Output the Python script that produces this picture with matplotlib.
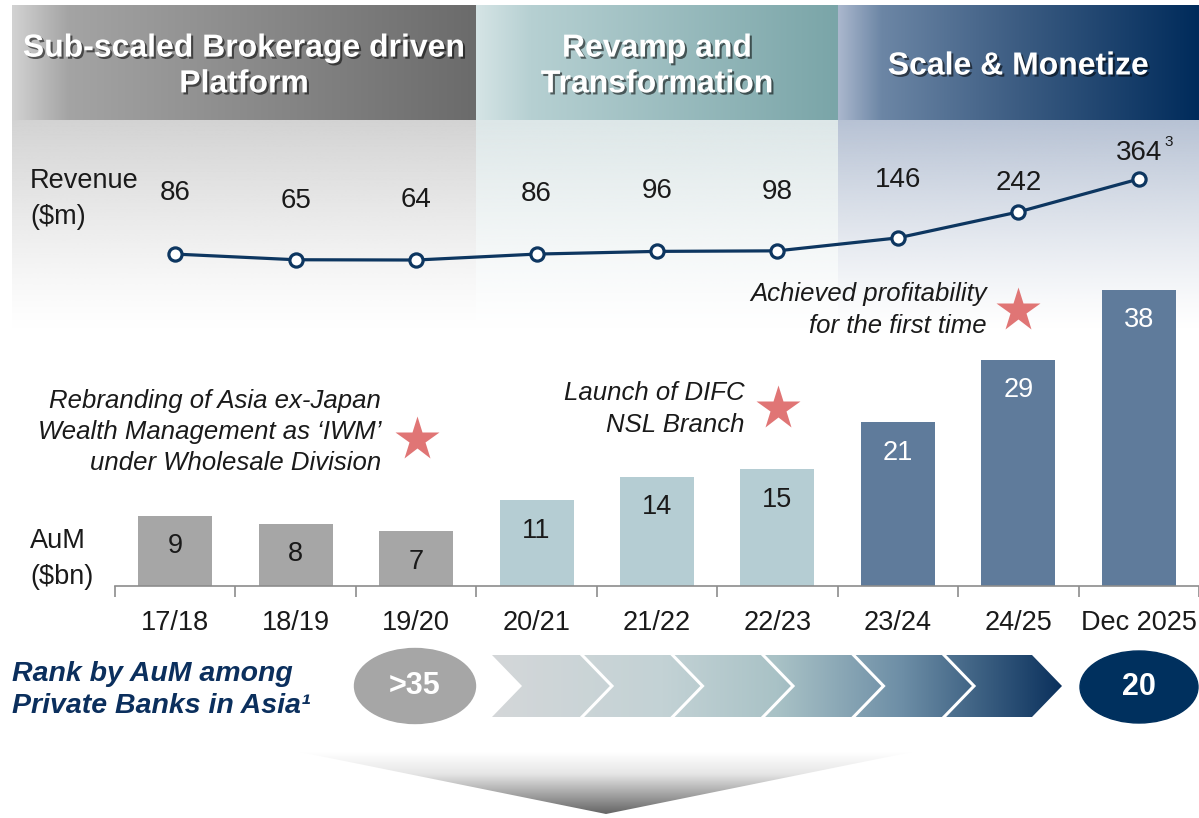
import numpy as np
import matplotlib
matplotlib.use('Agg')
import matplotlib.pyplot as plt
from matplotlib.colors import LinearSegmentedColormap, to_rgb
from matplotlib.patches import Polygon, Ellipse
import matplotlib.patheffects as pe

plt.rcParams['font.family'] = ['Liberation Sans', 'DejaVu Sans']

# data
periods = ['17/18', '18/19', '19/20', '20/21', '21/22', '22/23', '23/24', '24/25', 'Dec 2025']
revenue = [86, 65, 64, 86, 96, 98, 146, 242, 364]
aum = [9, 8, 7, 11, 14, 15, 21, 29, 38]
phase = [0, 0, 0, 1, 1, 1, 2, 2, 2]
phase_titles = ['Sub-scaled Brokerage driven\nPlatform', 'Revamp and\nTransformation', 'Scale & Monetize']
milestones = ['Rebranding of Asia ex-Japan\nWealth Management as \u2018IWM\u2019\nunder Wholesale Division',
              'Launch of DIFC\nNSL Branch',
              'Achieved profitability\nfor the first time']
rank_start = '>35'
rank_end = '20'

# style
W, H = 1199, 818
navy = '#0d3660'
bar_colors = ['#a6a6a6', '#b5cdd3', '#5f7b9b']
bar_text = ['#1a1a1a', '#1a1a1a', 'white']
star_color = '#e07575'
header_stops = [
    [(0, '#d2d2d2'), (0.12, '#a4a4a4'), (1, '#6b6b6b')],
    [(0, '#d5e4e5'), (0.15, '#b6d0d2'), (1, '#7aa5a8')],
    [(0, '#aab7cd'), (0.12, '#6c86a5'), (0.5, '#3c5c82'), (1, '#002b5b')],
]
fade_colors = ['#d3d3d3', '#dde7e8', '#b7c2d4']
col_edges = [12, 476, 838, 1199]
rev_gap_px = [64, 62, 63, 63, 63, 62, 61, 32, 29]


def gradient(ax, x0, x1, y0, y1, stops, horizontal=True, clip=None, z=0):
    cmap = LinearSegmentedColormap.from_list('g', stops)
    g = np.linspace(0, 1, 256)
    img = g.reshape(1, -1) if horizontal else g.reshape(-1, 1)
    im = ax.imshow(img, cmap=cmap, extent=(x0, x1, y1, y0), origin='upper',
                   aspect='auto', interpolation='bicubic', zorder=z)
    if clip is not None:
        im.set_clip_path(clip)
    return im


def fade(ax, x0, x1, y0, y1, color, z=0):
    rgba = np.zeros((256, 1, 4))
    rgba[:, 0, :3] = to_rgb(color)
    rgba[:, 0, 3] = np.linspace(1, 0, 256) ** 1.2
    ax.imshow(rgba, extent=(x0, x1, y1, y0), origin='upper', aspect='auto', zorder=z)


fig = plt.figure(figsize=(W / 100, H / 100), dpi=100)
bg = fig.add_axes([0, 0, 1, 1])
bg.axis('off')

# phase headers
shadow = [pe.withSimplePatchShadow(offset=(1.5, -1.5), shadow_rgbFace='black', alpha=0.55)]
for i in range(3):
    x0, x1 = col_edges[i], col_edges[i + 1]
    gradient(bg, x0, x1, 5, 120, header_stops[i])
    fade(bg, x0, x1, 120, 330, fade_colors[i])
    bg.text((x0 + x1) / 2, 66.5, phase_titles[i], ha='center', va='center', color='white',
            fontsize=23, fontweight='bold', linespacing=1.25, path_effects=shadow, zorder=5)

# milestone notes with stars
note_xy = [(381, 432), (745, 409), (987, 310)]
star_xy = [(417, 439), (778, 408), (1018, 310)]
for txt, (tx, ty), (sx, sy) in zip(milestones, note_xy, star_xy):
    bg.text(tx, ty, txt, ha='right', va='center', fontsize=18.5, style='italic',
            color='#1a1a1a', linespacing=1.38, zorder=5)
    bg.plot(sx, sy, marker='*', ms=33, color=star_color, mec='none', zorder=5)

bg.text(30, 199, 'Revenue\n($m)', ha='left', va='center', fontsize=19.5, color='#1a1a1a',
        linespacing=1.45, zorder=5)
bg.text(30, 559, 'AuM\n($bn)', ha='left', va='center', fontsize=19.5, color='#1a1a1a',
        linespacing=1.52, zorder=5)
bg.text(1164, 142, '3', ha='left', va='center', fontsize=11, color='#1a1a1a', zorder=5)

# rank row
bg.text(12, 690, 'Rank by AuM among\nPrivate Banks in Asia\u00b9', ha='left', va='center',
        fontsize=20.5, fontweight='bold', style='italic', color='#0b2f5d', linespacing=1.3, zorder=5)
bg.add_patch(Ellipse((415, 686), 121, 75, color='#a6a6a6', zorder=3))
bg.text(415, 686, rank_start, ha='center', va='center', fontsize=22, fontweight='bold',
        color='white', zorder=5)
bg.add_patch(Ellipse((1139, 687), 118, 72, color='#00305e', zorder=3))
bg.text(1139, 687, rank_end, ha='center', va='center', fontsize=22, fontweight='bold',
        color='white', zorder=5)

arrow = Polygon([(492, 655), (1032, 655), (1062, 686), (1032, 717), (492, 717), (522, 686)],
                closed=True, facecolor='none', edgecolor='none', transform=bg.transData)
bg.add_patch(arrow)
gradient(bg, 492, 1062, 655, 717,
         [(0, '#d4d7d9'), (0.3, '#c3d2d5'), (0.5, '#a9c2c6'), (0.72, '#6d8ea6'), (1, '#0b315d')],
         clip=arrow, z=2)
for tip in np.arange(612, 1000, 90.5):
    bg.plot([tip - 30, tip, tip - 30], [655, 686, 717], color='white', lw=2.2,
            solid_joinstyle='miter', zorder=3)

# bottom funnel
tri = Polygon([(300, 752), (912, 752), (606, 814)], closed=True, facecolor='none',
              edgecolor='none', transform=bg.transData)
bg.add_patch(tri)
gradient(bg, 300, 912, 752, 814, [(0, '#ffffff'), (0.35, '#e6e6e6'), (1, '#646464')],
         horizontal=False, clip=tri, z=2)

bg.set_xlim(0, W)
bg.set_ylim(H, 0)

# AuM bars
x = np.arange(len(periods))
axb = fig.add_axes([115 / W, (H - 586) / H, (W - 115) / W, 312 / H])
axb.bar(x, aum, width=0.615, color=[bar_colors[p] for p in phase], zorder=2)
for xi, v, p in zip(x, aum, phase):
    axb.annotate(str(v), (xi, v), xytext=(0, -22), textcoords='offset points',
                 ha='center', va='center', fontsize=19.5, color=bar_text[p])
axb.set_xlim(-0.5, 8.5)
axb.set_ylim(0, 40)
axb.patch.set_alpha(0)
for s in ['top', 'right', 'left']:
    axb.spines[s].set_visible(False)
axb.spines['bottom'].set_color('#8c8c8c')
axb.spines['bottom'].set_linewidth(1.2)
axb.set_yticks([])
axb.set_xticks(x)
axb.set_xticklabels(periods, fontsize=19.5, color='#1a1a1a')
axb.set_xticks(np.arange(-0.5, 9, 1), minor=True)
axb.tick_params(axis='x', which='major', length=0, pad=17)
axb.tick_params(axis='x', which='minor', length=8, width=1.2, color='#8c8c8c')

# revenue line
axl = fig.add_axes([115 / W, (H - 277.3) / H, (W - 115) / W, 108 / H])
axl.plot(x, revenue, color=navy, lw=2.3, marker='o', ms=9.5, mfc='white', mec=navy,
         mew=2.3, clip_on=False)
for xi, v, g in zip(x, revenue, rev_gap_px):
    axl.annotate(str(v), (xi, v), xytext=(0, g * 0.72 - 2), textcoords='offset points',
                 ha='center', va='center', fontsize=20, color='#1a1a1a')
axl.set_xlim(-0.5, 8.5)
axl.set_ylim(0, 400)
axl.axis('off')

fig.savefig('out.png', dpi=100)
